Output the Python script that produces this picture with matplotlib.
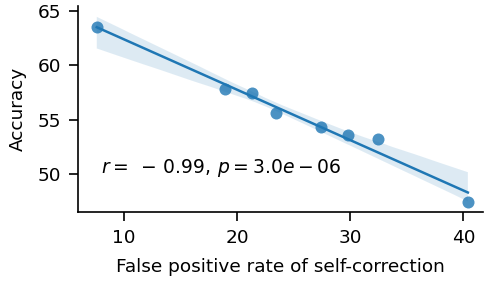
import numpy as np
import matplotlib
matplotlib.use("Agg")
import matplotlib.pyplot as plt
import seaborn as sns

# values
false_positive_rate = [7.6, 18.9, 21.3, 23.45, 27.4, 29.85, 32.5, 40.4]
accuracy = [63.5, 57.8, 57.5, 55.6, 54.3, 53.6, 53.2, 47.4]
stat_text = r"$r=\;-\,0.99,\, p=3.0e-06$"

fig, ax = plt.subplots(figsize=(4.85, 2.82), dpi=100)
sns.regplot(x=np.array(false_positive_rate), y=np.array(accuracy), ax=ax,
            color="#1f77b4", seed=0,
            scatter_kws={"s": 75, "alpha": 0.8, "linewidths": 0},
            line_kws={"linewidth": 1.8})
sns.despine(ax=ax)

ax.text(8.0, 50.6, stat_text, fontsize=13.5, va="center")

ax.set_xlabel("False positive rate of self-correction", fontsize=13.3, labelpad=8)
ax.set_ylabel("Accuracy", fontsize=13.3, labelpad=8)
ax.tick_params(labelsize=13.3, width=1.2, length=6.5, pad=5.5)
for sp in ax.spines.values():
    sp.set_linewidth(1.2)
ax.set_xticks([10, 20, 30, 40])
ax.set_yticks([50, 55, 60, 65])
ax.set_xlim(5.95, 41.7)
ax.set_ylim(46.5, 65.5)

fig.subplots_adjust(left=0.161, right=0.995, bottom=0.248, top=0.98)
fig.savefig("out.png", dpi=100)
